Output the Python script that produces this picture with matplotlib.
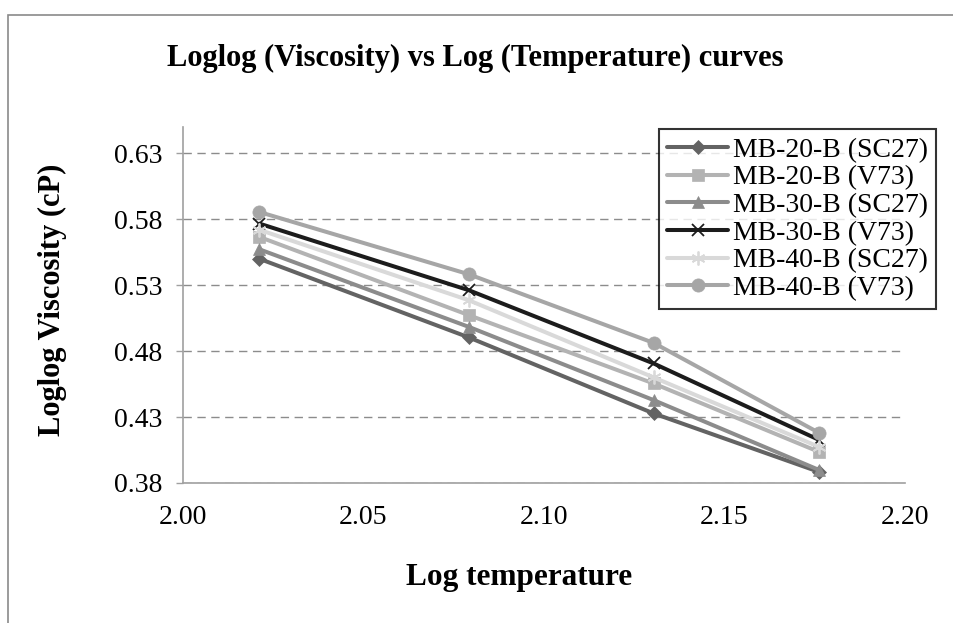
import numpy as np
import matplotlib
matplotlib.use("Agg")
import matplotlib.pyplot as plt
from matplotlib.patches import Rectangle

temps = [105, 120, 135, 150]
log_temp = np.log10(temps)

series_names = ["MB-20-B (SC27)", "MB-20-B (V73)", "MB-30-B (SC27)",
                "MB-30-B (V73)", "MB-40-B (SC27)", "MB-40-B (V73)"]
mb20_sc27 = [0.5500, 0.4904, 0.4328, 0.3885]
mb20_v73 = [0.5666, 0.5073, 0.4555, 0.4037]
mb30_sc27 = [0.5572, 0.4984, 0.4429, 0.3900]
mb30_v73 = [0.5767, 0.5262, 0.4707, 0.4128]
mb40_sc27 = [0.5720, 0.5186, 0.4601, 0.4075]
mb40_v73 = [0.5855, 0.5383, 0.4863, 0.4182]
values = [mb20_sc27, mb20_v73, mb30_sc27, mb30_v73, mb40_sc27, mb40_v73]

colors = ["#636363", "#b3b3b3", "#8c8c8c", "#1c1c1c", "#d9d9d9", "#a6a6a6"]
markers = ["D", "s", "^", "x", (6, 2, 0), "o"]
msizes = [7.5, 8.5, 9, 9, 10, 9.5]

yticks = [0.38, 0.43, 0.48, 0.53, 0.58, 0.63]
xticks = [2.00, 2.05, 2.10, 2.15, 2.20]

plt.rcParams['font.family'] = ['Liberation Serif', 'DejaVu Serif']

W, H = 954, 623
fig = plt.figure(figsize=(W / 100, H / 100), dpi=100)

# outer chart border (left and top visible)
fig.patches.append(Rectangle((8 / W, -0.1), 1.2, (H - 15) / H + 0.1,
                             transform=fig.transFigure, fill=False,
                             edgecolor="#8a8a8a", linewidth=1.2))

ax = fig.add_axes([183 / W, (H - 483) / H, (905 - 183) / W, (483 - 127) / H])

for name, vals, c, m, ms in zip(series_names, values, colors, markers, msizes):
    mew = 1.3 if m in ("x", (6, 2, 0)) else 0.5
    ax.plot(log_temp, vals, color=c, linewidth=2.9, marker=m, markersize=ms,
            markerfacecolor=c, markeredgecolor=c, markeredgewidth=mew,
            label=name, solid_capstyle="round")

ax.set_xlim(2.00, 2.20)
ax.set_ylim(0.38, 0.65)
ax.set_xticks(xticks)
ax.set_xticklabels([f"{t:.2f}" for t in xticks])
ax.set_yticks(yticks)
ax.set_yticklabels([f"{t:.2f}" for t in yticks])
ax.tick_params(axis="x", length=0, labelsize=20, pad=16)
ax.tick_params(axis="y", length=5, color="#a0a0a0", width=1, labelsize=20, pad=10)

ax.grid(axis="y", linestyle=(0, (6, 4)), color="#8c8c8c", linewidth=1)
ax.set_axisbelow(True)
for s in ["top", "right"]:
    ax.spines[s].set_visible(False)
for s in ["left", "bottom"]:
    ax.spines[s].set_color("#a0a0a0")
    ax.spines[s].set_linewidth(1.2)

fig.text(0.5 * (167 + 783) / W, (H - 58) / H,
         "Loglog (Viscosity) vs Log (Temperature) curves",
         ha="center", va="center", fontsize=22, fontweight="bold")
fig.text(519 / W, (H - 577) / H, "Log temperature",
         ha="center", va="center", fontsize=22.5, fontweight="bold")
fig.text(52 / W, (H - 300) / H, "Loglog Viscosity (cP)", rotation=90,
         ha="center", va="center", fontsize=22, fontweight="bold")

leg = ax.legend(loc="upper right", bbox_to_anchor=(936 / W, (H - 129) / H),
                bbox_transform=fig.transFigure, fontsize=20, frameon=True,
                fancybox=False, edgecolor="black", handlelength=2.2,
                handletextpad=0.15, borderpad=0.3, labelspacing=0.08,
                borderaxespad=0)
leg.get_frame().set_linewidth(1.5)

fig.savefig("out.png", dpi=100)
